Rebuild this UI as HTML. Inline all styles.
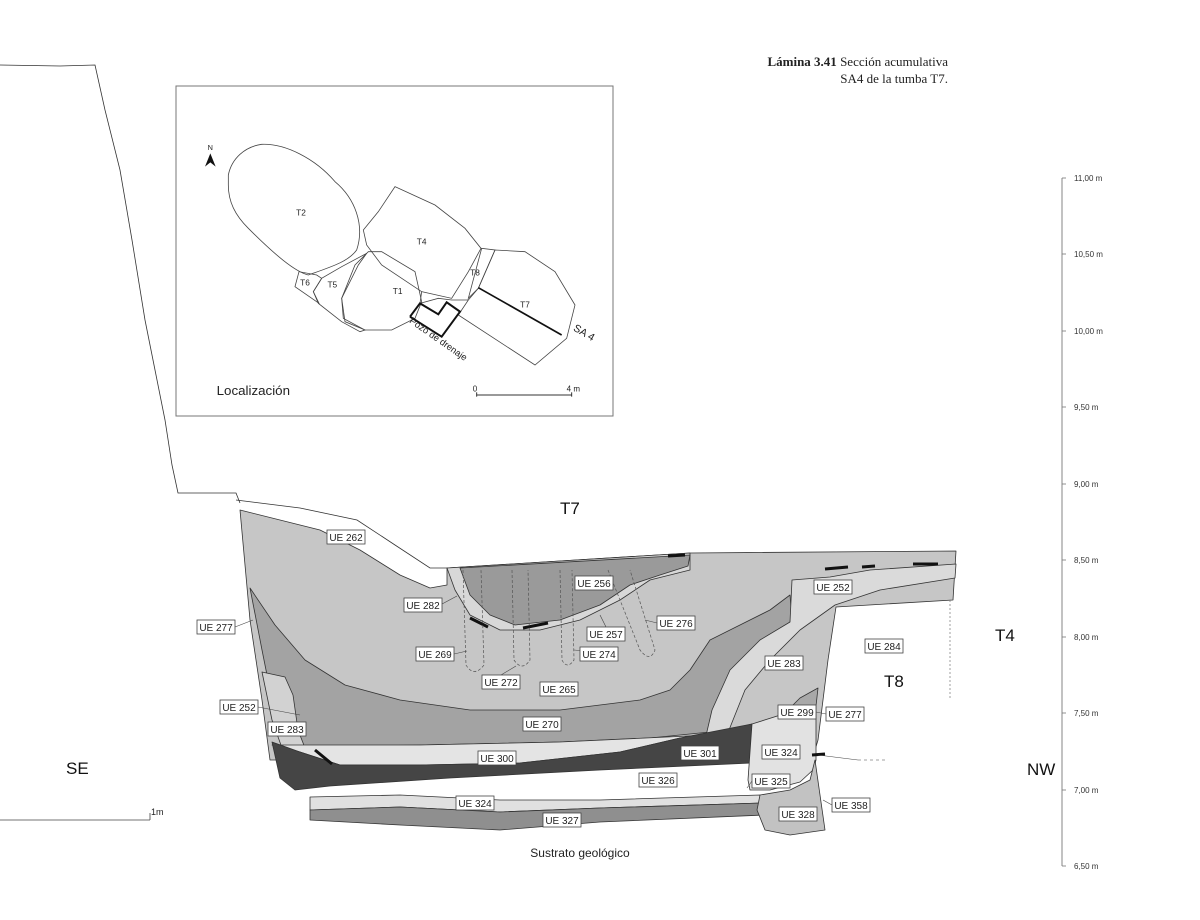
<!DOCTYPE html>
<html><head><meta charset="utf-8"><style>
html,body{margin:0;padding:0;background:#fff;}
svg{display:block;font-family:"Liberation Sans",Arial,sans-serif;}
.lb rect{fill:#fff;stroke:#444;stroke-width:0.8}
.lb text{font-size:10px;fill:#222;text-anchor:middle}
</style></head><body>
<svg width="1200" height="920" viewBox="0 0 1200 920" xmlns="http://www.w3.org/2000/svg">
<!-- title -->
<text x="948" y="66" text-anchor="end" font-family="Liberation Serif,serif" font-size="13" fill="#222"><tspan font-weight="bold">Lámina 3.41</tspan> Sección acumulativa</text>
<text x="948" y="83" text-anchor="end" font-family="Liberation Serif,serif" font-size="13" fill="#222">SA4 de la tumba T7.</text>

<!-- wall line -->
<polyline points="0,65 60,66 95,65 105,110 120,170 132,240 145,320 155,370 165,420 172,465 178,493 236,493 240,503" fill="none" stroke="#333" stroke-width="0.8"/>

<!-- inset -->
<rect x="176" y="86" width="437" height="330" fill="#fff" stroke="#777" stroke-width="1"/>
<g transform="translate(175,85) scale(0.33333)" fill="none" stroke="#444" stroke-width="2.4">
<path d="M160,270 C170,220 210,185 260,178 C330,175 420,220 480,290 C540,340 570,420 545,495 C520,530 470,545 400,570 C360,560 300,510 220,430 C180,390 160,350 160,300 Z"/>
<path d="M565,435 L610,380 L660,305 L780,360 L870,430 L918,490 L880,560 L830,640 L740,620 L620,540 L575,480 Z"/>
<path d="M500,640 L540,540 L580,500 L620,500 L720,560 L740,650 L720,700 L650,735 L570,735 L510,710 Z"/>
<path d="M415,620 L440,580 L500,545 L575,505 L550,540 L500,640 L505,700 L570,735 L555,740 L500,710 L430,655 Z"/>
<path d="M360,605 L372,560 L425,570 L440,580 L415,620 L432,655 Z"/>
<path d="M880,640 L920,490 L960,495 L910,610 Z"/>
<path d="M960,495 L1050,500 L1140,560 L1200,660 L1175,760 L1080,840 L850,690 L880,645 L910,610 Z"/>
<path d="M740,620 L735,655 L790,640 L830,645 L880,645"/>
<polyline points="705,695 735,655 790,688 815,652 855,680 800,755 705,695" stroke="#111" stroke-width="6"/>
<line x1="910" y1="608" x2="1160" y2="750" stroke="#111" stroke-width="5"/>
<line x1="905" y1="930" x2="1190" y2="930" stroke="#333" stroke-width="3"/>
<line x1="905" y1="922" x2="905" y2="935" stroke="#333" stroke-width="3"/>
<line x1="1190" y1="922" x2="1190" y2="935" stroke="#333" stroke-width="3"/>
<g stroke="none" fill="#222" font-size="25" text-anchor="middle">
<text x="378" y="392">T2</text><text x="740" y="478">T4</text><text x="900" y="572">T8</text>
<text x="390" y="602">T6</text><text x="472" y="607">T5</text><text x="668" y="627">T1</text>
<text x="1050" y="667">T7</text>
<text x="1222" y="752" font-size="32" transform="rotate(30 1222 752)">SA 4</text>
<text x="785" y="770" font-size="28" transform="rotate(35 785 770)">Pozo de drenaje</text>
<text x="900" y="920" font-size="24">0</text><text x="1195" y="920" font-size="24">4 m</text>
<text x="235" y="930" font-size="40">Localización</text>
<text x="106" y="195" font-size="22">N</text>
<path d="M106,205 L90,245 L106,232 L122,245 Z" fill="#111"/>
</g>
</g>

<!-- section fills -->
<g stroke="#333" stroke-width="0.8" stroke-linejoin="round">
<polygon fill="#c6c6c6" points="240,510 320,530 360,550 400,575 430,588 447,585 447,568 690,553 956,551 953,600 836,607 828,660 818,740 812,760 270,760 262,700 250,620"/>
<polygon fill="#a3a3a3" points="250,588 275,625 305,660 345,685 400,700 470,710 560,710 640,700 670,690 690,670 710,640 740,625 770,610 790,595 792,620 770,640 745,660 725,690 710,732 650,738 560,742 420,745 300,747 285,720 270,690 262,650"/>
<polygon fill="#dadada" points="705,740 712,710 730,670 760,640 790,622 792,580 830,577 870,570 956,564 955,578 880,590 835,605 800,630 770,660 745,690 725,740"/>
<polygon fill="#a8a8a8" points="790,708 800,698 818,688 816,706"/>
<!-- left UE 283 strip -->
<polygon fill="#d2d2d2" points="262,672 285,677 293,695 298,730 305,748 282,748 272,720"/>
<!-- shaft -->
<polygon fill="#d8d8d8" points="447,568 455,590 470,615 500,630 540,630 580,620 620,600 650,580 690,570 690,553"/>
<polygon fill="#9a9a9a" points="460,568 470,595 490,615 515,625 560,620 600,605 630,585 660,575 688,566 690,555"/>
<!-- UE 300 -->
<polygon fill="#e4e4e4" points="272,745 420,745 560,742 710,735 752,724 752,740 680,738 620,752 520,763 420,765 340,765 300,752"/>
<!-- dark UE 301 -->
<polygon fill="#454545" points="272,742 300,752 340,765 420,765 520,763 620,752 680,738 752,724 752,763 600,770 450,778 330,786 295,790 280,778"/>
<!-- right column -->
<polygon fill="#e2e2e2" points="752,724 790,712 816,706 816,760 813,770 800,782 770,790 750,790 748,780"/>
<!-- UE 324 lower -->
<polygon fill="#e0e0e0" points="310,797 400,795 500,800 600,800 760,795 762,803 600,808 500,812 400,807 310,810"/>
<polygon fill="#8f8f8f" points="310,810 400,807 500,812 600,808 762,803 765,815 600,822 500,830 400,825 310,820"/>
<polygon fill="#c2c2c2" points="760,795 790,790 810,780 815,760 825,830 790,835 765,830 757,810"/>
</g>
<!-- top ground line -->
<polyline points="236,500 300,508 357,520 395,545 430,568 447,568" fill="none" stroke="#333" stroke-width="0.8"/>
<!-- black dashes -->
<g stroke="#111" stroke-width="3" fill="none">
<line x1="470" y1="618" x2="488" y2="627"/><line x1="523" y1="628" x2="548" y2="623"/>
<line x1="668" y1="556" x2="685" y2="555"/><line x1="825" y1="569" x2="848" y2="567"/>
<line x1="862" y1="567" x2="875" y2="566"/><line x1="913" y1="564" x2="938" y2="564"/>
<line x1="315" y1="750" x2="332" y2="764"/><line x1="812" y1="755" x2="825" y2="754"/>
</g>
<!-- dashed post holes -->
<g stroke="#555" stroke-width="0.7" fill="none" stroke-dasharray="3,2">
<path d="M463,570 L466,665 Q474,678 484,665 L481,570"/>
<path d="M512,570 L514,660 Q522,672 530,660 L528,570"/>
<path d="M560,570 L562,660 Q567,670 574,660 L572,570"/>
<path d="M608,570 L640,650 Q650,663 655,650 L630,570"/>
</g>
<line x1="818" y1="755" x2="858" y2="760" stroke="#444" stroke-width="0.6"/>
<line x1="858" y1="760" x2="885" y2="760" stroke="#444" stroke-width="0.6" stroke-dasharray="3,3"/>
<line x1="950" y1="600" x2="950" y2="700" stroke="#777" stroke-width="0.7" stroke-dasharray="2,2"/>

<!-- leader lines -->
<g stroke="#444" stroke-width="0.6">
<line x1="235" y1="627" x2="253" y2="620"/><line x1="442" y1="604" x2="457" y2="596"/>
<line x1="454" y1="654" x2="467" y2="651"/><line x1="501" y1="675" x2="516" y2="666"/>
<line x1="618" y1="654" x2="574" y2="650"/><line x1="606" y1="627" x2="600" y2="615"/>
<line x1="657" y1="623" x2="645" y2="620"/><line x1="258" y1="707" x2="300" y2="715"/>
<line x1="816" y1="712" x2="826" y2="714"/><line x1="752" y1="781" x2="747" y2="788"/>
<line x1="832" y1="805" x2="823" y2="800"/>
</g>

<!-- labels -->
<g class="lb">
<g transform="translate(346,537)"><rect x="-19" y="-7" width="38" height="14"/><text y="4">UE 262</text></g>
<g transform="translate(423,605)"><rect x="-19" y="-7" width="38" height="14"/><text y="4">UE 282</text></g>
<g transform="translate(216,627)"><rect x="-19" y="-7" width="38" height="14"/><text y="4">UE 277</text></g>
<g transform="translate(435,654)"><rect x="-19" y="-7" width="38" height="14"/><text y="4">UE 269</text></g>
<g transform="translate(501,682)"><rect x="-19" y="-7" width="38" height="14"/><text y="4">UE 272</text></g>
<g transform="translate(559,689)"><rect x="-19" y="-7" width="38" height="14"/><text y="4">UE 265</text></g>
<g transform="translate(594,583)"><rect x="-19" y="-7" width="38" height="14"/><text y="4">UE 256</text></g>
<g transform="translate(606,634)"><rect x="-19" y="-7" width="38" height="14"/><text y="4">UE 257</text></g>
<g transform="translate(599,654)"><rect x="-19" y="-7" width="38" height="14"/><text y="4">UE 274</text></g>
<g transform="translate(676,623)"><rect x="-19" y="-7" width="38" height="14"/><text y="4">UE 276</text></g>
<g transform="translate(833,587)"><rect x="-19" y="-7" width="38" height="14"/><text y="4">UE 252</text></g>
<g transform="translate(784,663)"><rect x="-19" y="-7" width="38" height="14"/><text y="4">UE 283</text></g>
<g transform="translate(884,646)"><rect x="-19" y="-7" width="38" height="14"/><text y="4">UE 284</text></g>
<g transform="translate(239,707)"><rect x="-19" y="-7" width="38" height="14"/><text y="4">UE 252</text></g>
<g transform="translate(287,729)"><rect x="-19" y="-7" width="38" height="14"/><text y="4">UE 283</text></g>
<g transform="translate(542,724)"><rect x="-19" y="-7" width="38" height="14"/><text y="4">UE 270</text></g>
<g transform="translate(497,758)"><rect x="-19" y="-7" width="38" height="14"/><text y="4">UE 300</text></g>
<g transform="translate(700,753)"><rect x="-19" y="-7" width="38" height="14"/><text y="4">UE 301</text></g>
<g transform="translate(797,712)"><rect x="-19" y="-7" width="38" height="14"/><text y="4">UE 299</text></g>
<g transform="translate(845,714)"><rect x="-19" y="-7" width="38" height="14"/><text y="4">UE 277</text></g>
<g transform="translate(781,752)"><rect x="-19" y="-7" width="38" height="14"/><text y="4">UE 324</text></g>
<g transform="translate(771,781)"><rect x="-19" y="-7" width="38" height="14"/><text y="4">UE 325</text></g>
<g transform="translate(658,780)"><rect x="-19" y="-7" width="38" height="14"/><text y="4">UE 326</text></g>
<g transform="translate(475,803)"><rect x="-19" y="-7" width="38" height="14"/><text y="4">UE 324</text></g>
<g transform="translate(562,820)"><rect x="-19" y="-7" width="38" height="14"/><text y="4">UE 327</text></g>
<g transform="translate(851,805)"><rect x="-19" y="-7" width="38" height="14"/><text y="4">UE 358</text></g>
<g transform="translate(798,814)"><rect x="-19" y="-7" width="38" height="14"/><text y="4">UE 328</text></g>
</g>

<!-- big labels -->
<g fill="#111" font-size="17">
<text x="560" y="514">T7</text><text x="995" y="641">T4</text><text x="884" y="687">T8</text>
<text x="66" y="774">SE</text><text x="1027" y="775">NW</text>
</g>
<text x="580" y="857" font-size="12" text-anchor="middle" fill="#222">Sustrato geológico</text>
<!-- bottom-left scale -->
<line x1="0" y1="820" x2="150" y2="820" stroke="#444" stroke-width="0.8"/>
<line x1="150" y1="813" x2="150" y2="820" stroke="#444" stroke-width="0.8"/>
<text x="151" y="815" font-size="9" fill="#222">1m</text>
<!-- height scale -->
<g stroke="#999" stroke-width="1.2"><line x1="1062" y1="178" x2="1062" y2="866"/></g>
<g stroke="#777" stroke-width="0.8">
<line x1="1062" y1="178" x2="1066" y2="178"/><line x1="1062" y1="254" x2="1066" y2="254"/>
<line x1="1062" y1="331" x2="1066" y2="331"/><line x1="1062" y1="407" x2="1066" y2="407"/>
<line x1="1062" y1="484" x2="1066" y2="484"/><line x1="1062" y1="560" x2="1066" y2="560"/>
<line x1="1062" y1="637" x2="1066" y2="637"/><line x1="1062" y1="713" x2="1066" y2="713"/>
<line x1="1062" y1="790" x2="1066" y2="790"/><line x1="1062" y1="866" x2="1066" y2="866"/>
</g>
<g font-size="8" fill="#333">
<text x="1074" y="181">11,00 m</text><text x="1074" y="257">10,50 m</text>
<text x="1074" y="334">10,00 m</text><text x="1074" y="410">9,50 m</text>
<text x="1074" y="487">9,00 m</text><text x="1074" y="563">8,50 m</text>
<text x="1074" y="640">8,00 m</text><text x="1074" y="716">7,50 m</text>
<text x="1074" y="793">7,00 m</text><text x="1074" y="869">6,50 m</text>
</g>
</svg>
</body></html>
